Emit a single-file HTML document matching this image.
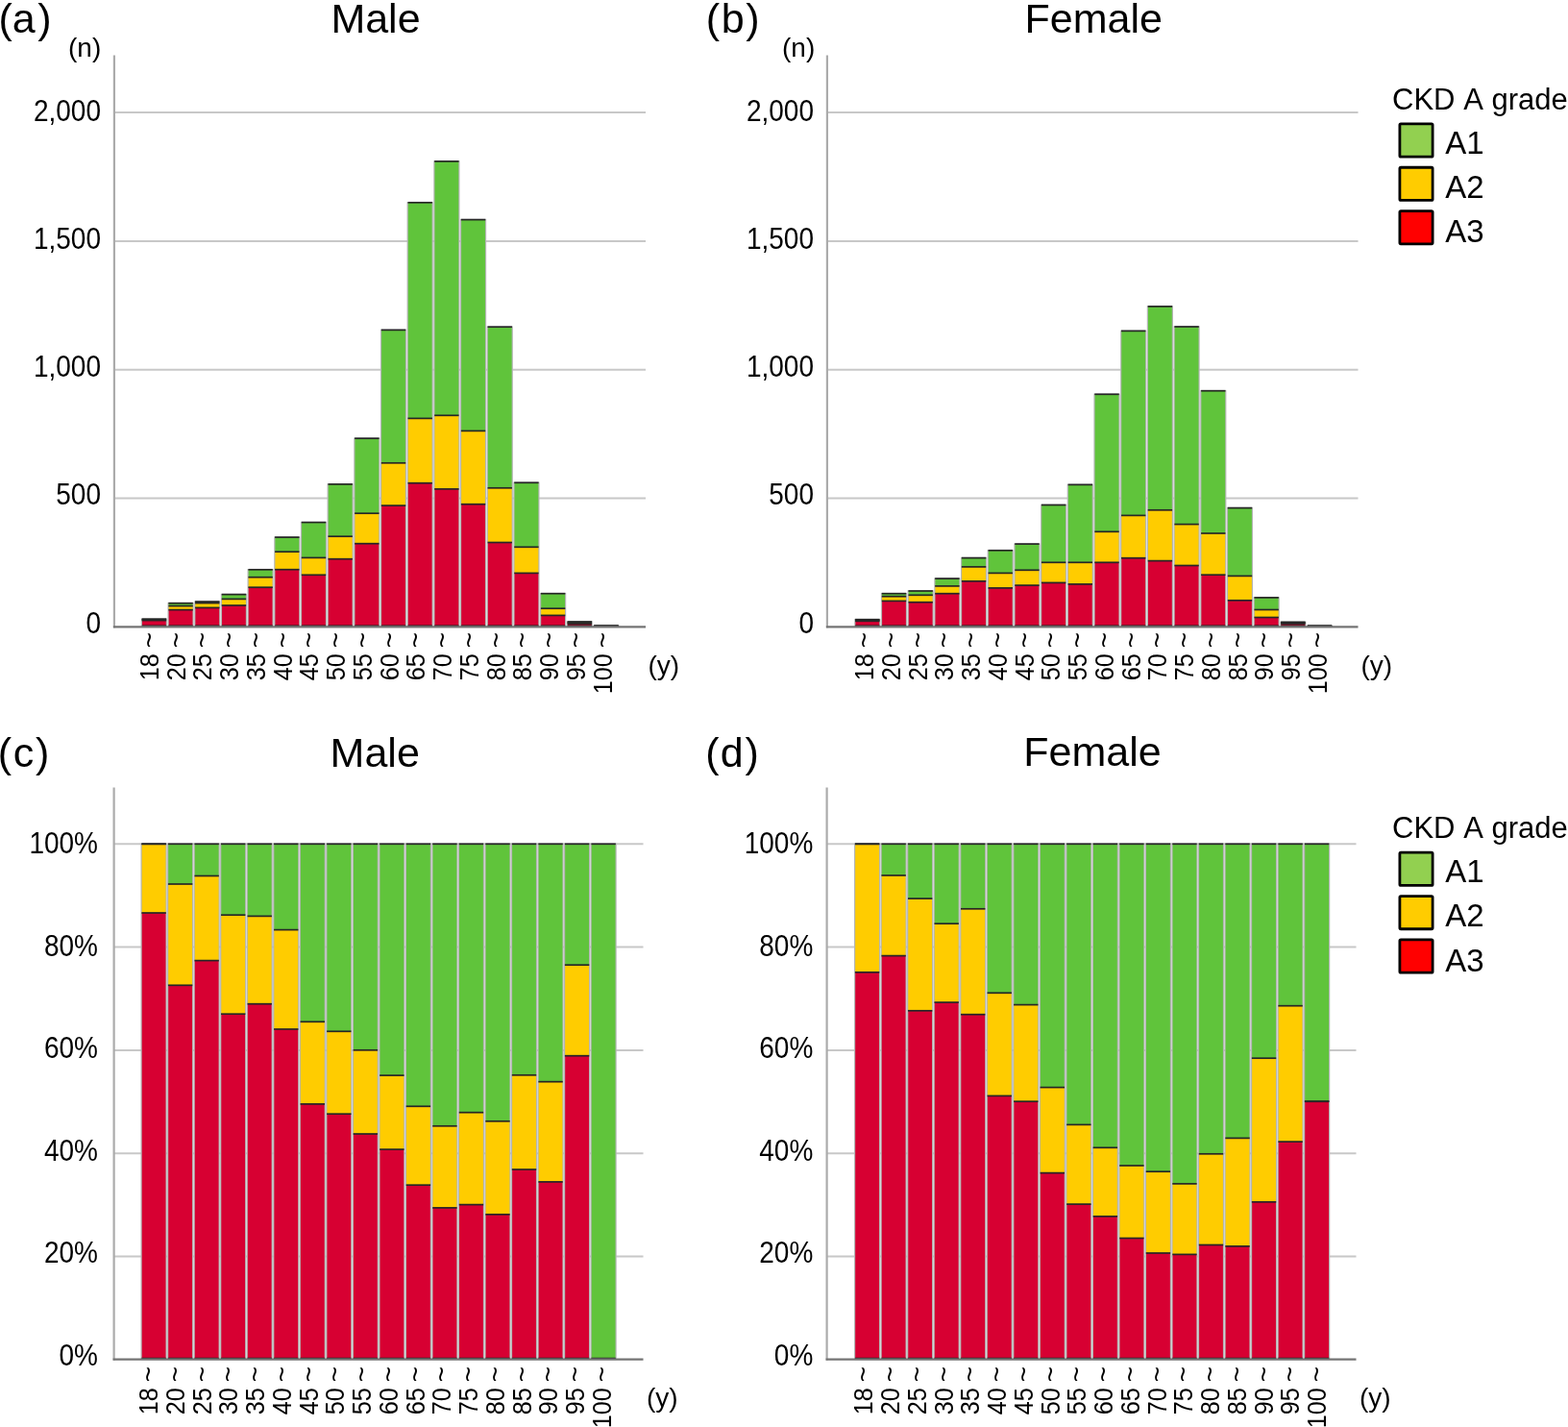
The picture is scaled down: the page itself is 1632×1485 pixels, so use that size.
<!DOCTYPE html>
<html><head><meta charset="utf-8"><title>CKD A grade by age</title>
<style>html,body{margin:0;padding:0;background:#fff;}svg{display:block;}text{font-family:'Liberation Sans', Arial, Helvetica, sans-serif;fill:#000;}.t{font-size:28px;}.h{font-size:43px;}.lg{font-size:31px;}.li{font-size:33px;}</style></head><body>
<svg width="1632" height="1485" viewBox="0 0 1632 1485">
<rect width="1632" height="1485" fill="#fff"/>
<line x1="118.9" y1="117" x2="672" y2="117" stroke="#c8c8c8" stroke-width="2"/>
<line x1="118.9" y1="250.9" x2="672" y2="250.9" stroke="#c8c8c8" stroke-width="2"/>
<line x1="118.9" y1="384.8" x2="672" y2="384.8" stroke="#c8c8c8" stroke-width="2"/>
<line x1="118.9" y1="518.6" x2="672" y2="518.6" stroke="#c8c8c8" stroke-width="2"/>
<rect x="146.8" y="643.45" width="27.2" height="8.85" fill="#b4b6b5"/>
<rect x="148" y="644.2" width="24.8" height="0.7" fill="#60c43b"/>
<rect x="148" y="644.9" width="24.8" height="0.7" fill="#ffcc00"/>
<rect x="148" y="645.6" width="24.8" height="6.7" fill="#d70032"/>
<line x1="147.7" y1="644.2" x2="173.1" y2="644.2" stroke="#262626" stroke-width="1.7"/>
<line x1="147.7" y1="644.9" x2="173.1" y2="644.9" stroke="#262626" stroke-width="1.7"/>
<line x1="147.7" y1="645.6" x2="173.1" y2="645.6" stroke="#262626" stroke-width="1.7"/>
<line x1="147.7" y1="651.3" x2="173.1" y2="651.3" stroke="#262626" stroke-width="1.7"/>
<rect x="174.48" y="626.95" width="27.2" height="25.35" fill="#b4b6b5"/>
<rect x="175.68" y="627.7" width="24.8" height="2.9" fill="#60c43b"/>
<rect x="175.68" y="630.6" width="24.8" height="4" fill="#ffcc00"/>
<rect x="175.68" y="634.6" width="24.8" height="17.7" fill="#d70032"/>
<line x1="175.38" y1="627.7" x2="200.78" y2="627.7" stroke="#262626" stroke-width="1.7"/>
<line x1="175.38" y1="630.6" x2="200.78" y2="630.6" stroke="#262626" stroke-width="1.7"/>
<line x1="175.38" y1="634.6" x2="200.78" y2="634.6" stroke="#262626" stroke-width="1.7"/>
<line x1="175.38" y1="651.3" x2="200.78" y2="651.3" stroke="#262626" stroke-width="1.7"/>
<rect x="202.16" y="625.35" width="27.2" height="26.95" fill="#b4b6b5"/>
<rect x="203.36" y="626.1" width="24.8" height="1.5" fill="#60c43b"/>
<rect x="203.36" y="627.6" width="24.8" height="4.8" fill="#ffcc00"/>
<rect x="203.36" y="632.4" width="24.8" height="19.9" fill="#d70032"/>
<line x1="203.06" y1="626.1" x2="228.46" y2="626.1" stroke="#262626" stroke-width="1.7"/>
<line x1="203.06" y1="627.6" x2="228.46" y2="627.6" stroke="#262626" stroke-width="1.7"/>
<line x1="203.06" y1="632.4" x2="228.46" y2="632.4" stroke="#262626" stroke-width="1.7"/>
<line x1="203.06" y1="651.3" x2="228.46" y2="651.3" stroke="#262626" stroke-width="1.7"/>
<rect x="229.84" y="617.85" width="27.2" height="34.45" fill="#b4b6b5"/>
<rect x="231.04" y="618.6" width="24.8" height="4.8" fill="#60c43b"/>
<rect x="231.04" y="623.4" width="24.8" height="6.6" fill="#ffcc00"/>
<rect x="231.04" y="630" width="24.8" height="22.3" fill="#d70032"/>
<line x1="230.74" y1="618.6" x2="256.14" y2="618.6" stroke="#262626" stroke-width="1.7"/>
<line x1="230.74" y1="623.4" x2="256.14" y2="623.4" stroke="#262626" stroke-width="1.7"/>
<line x1="230.74" y1="630" x2="256.14" y2="630" stroke="#262626" stroke-width="1.7"/>
<line x1="230.74" y1="651.3" x2="256.14" y2="651.3" stroke="#262626" stroke-width="1.7"/>
<rect x="257.52" y="592.05" width="27.2" height="60.25" fill="#b4b6b5"/>
<rect x="258.72" y="592.8" width="24.8" height="7.9" fill="#60c43b"/>
<rect x="258.72" y="600.7" width="24.8" height="10.5" fill="#ffcc00"/>
<rect x="258.72" y="611.2" width="24.8" height="41.1" fill="#d70032"/>
<line x1="258.42" y1="592.8" x2="283.82" y2="592.8" stroke="#262626" stroke-width="1.7"/>
<line x1="258.42" y1="600.7" x2="283.82" y2="600.7" stroke="#262626" stroke-width="1.7"/>
<line x1="258.42" y1="611.2" x2="283.82" y2="611.2" stroke="#262626" stroke-width="1.7"/>
<line x1="258.42" y1="651.3" x2="283.82" y2="651.3" stroke="#262626" stroke-width="1.7"/>
<rect x="285.2" y="558.35" width="27.2" height="93.95" fill="#b4b6b5"/>
<rect x="286.4" y="559.1" width="24.8" height="15.1" fill="#60c43b"/>
<rect x="286.4" y="574.2" width="24.8" height="18.5" fill="#ffcc00"/>
<rect x="286.4" y="592.7" width="24.8" height="59.6" fill="#d70032"/>
<line x1="286.1" y1="559.1" x2="311.5" y2="559.1" stroke="#262626" stroke-width="1.7"/>
<line x1="286.1" y1="574.2" x2="311.5" y2="574.2" stroke="#262626" stroke-width="1.7"/>
<line x1="286.1" y1="592.7" x2="311.5" y2="592.7" stroke="#262626" stroke-width="1.7"/>
<line x1="286.1" y1="651.3" x2="311.5" y2="651.3" stroke="#262626" stroke-width="1.7"/>
<rect x="312.88" y="542.85" width="27.2" height="109.45" fill="#b4b6b5"/>
<rect x="314.08" y="543.6" width="24.8" height="36.8" fill="#60c43b"/>
<rect x="314.08" y="580.4" width="24.8" height="17.9" fill="#ffcc00"/>
<rect x="314.08" y="598.3" width="24.8" height="54" fill="#d70032"/>
<line x1="313.78" y1="543.6" x2="339.18" y2="543.6" stroke="#262626" stroke-width="1.7"/>
<line x1="313.78" y1="580.4" x2="339.18" y2="580.4" stroke="#262626" stroke-width="1.7"/>
<line x1="313.78" y1="598.3" x2="339.18" y2="598.3" stroke="#262626" stroke-width="1.7"/>
<line x1="313.78" y1="651.3" x2="339.18" y2="651.3" stroke="#262626" stroke-width="1.7"/>
<rect x="340.56" y="503.15" width="27.2" height="149.15" fill="#b4b6b5"/>
<rect x="341.76" y="503.9" width="24.8" height="54.3" fill="#60c43b"/>
<rect x="341.76" y="558.2" width="24.8" height="23.5" fill="#ffcc00"/>
<rect x="341.76" y="581.7" width="24.8" height="70.6" fill="#d70032"/>
<line x1="341.46" y1="503.9" x2="366.86" y2="503.9" stroke="#262626" stroke-width="1.7"/>
<line x1="341.46" y1="558.2" x2="366.86" y2="558.2" stroke="#262626" stroke-width="1.7"/>
<line x1="341.46" y1="581.7" x2="366.86" y2="581.7" stroke="#262626" stroke-width="1.7"/>
<line x1="341.46" y1="651.3" x2="366.86" y2="651.3" stroke="#262626" stroke-width="1.7"/>
<rect x="368.24" y="455.45" width="27.2" height="196.85" fill="#b4b6b5"/>
<rect x="369.44" y="456.2" width="24.8" height="78" fill="#60c43b"/>
<rect x="369.44" y="534.2" width="24.8" height="31.5" fill="#ffcc00"/>
<rect x="369.44" y="565.7" width="24.8" height="86.6" fill="#d70032"/>
<line x1="369.14" y1="456.2" x2="394.54" y2="456.2" stroke="#262626" stroke-width="1.7"/>
<line x1="369.14" y1="534.2" x2="394.54" y2="534.2" stroke="#262626" stroke-width="1.7"/>
<line x1="369.14" y1="565.7" x2="394.54" y2="565.7" stroke="#262626" stroke-width="1.7"/>
<line x1="369.14" y1="651.3" x2="394.54" y2="651.3" stroke="#262626" stroke-width="1.7"/>
<rect x="395.92" y="342.65" width="27.2" height="309.65" fill="#b4b6b5"/>
<rect x="397.12" y="343.4" width="24.8" height="138.4" fill="#60c43b"/>
<rect x="397.12" y="481.8" width="24.8" height="44.3" fill="#ffcc00"/>
<rect x="397.12" y="526.1" width="24.8" height="126.2" fill="#d70032"/>
<line x1="396.82" y1="343.4" x2="422.22" y2="343.4" stroke="#262626" stroke-width="1.7"/>
<line x1="396.82" y1="481.8" x2="422.22" y2="481.8" stroke="#262626" stroke-width="1.7"/>
<line x1="396.82" y1="526.1" x2="422.22" y2="526.1" stroke="#262626" stroke-width="1.7"/>
<line x1="396.82" y1="651.3" x2="422.22" y2="651.3" stroke="#262626" stroke-width="1.7"/>
<rect x="423.6" y="210.05" width="27.2" height="442.25" fill="#b4b6b5"/>
<rect x="424.8" y="210.8" width="24.8" height="224.6" fill="#60c43b"/>
<rect x="424.8" y="435.4" width="24.8" height="67.3" fill="#ffcc00"/>
<rect x="424.8" y="502.7" width="24.8" height="149.6" fill="#d70032"/>
<line x1="424.5" y1="210.8" x2="449.9" y2="210.8" stroke="#262626" stroke-width="1.7"/>
<line x1="424.5" y1="435.4" x2="449.9" y2="435.4" stroke="#262626" stroke-width="1.7"/>
<line x1="424.5" y1="502.7" x2="449.9" y2="502.7" stroke="#262626" stroke-width="1.7"/>
<line x1="424.5" y1="651.3" x2="449.9" y2="651.3" stroke="#262626" stroke-width="1.7"/>
<rect x="451.28" y="167.15" width="27.2" height="485.15" fill="#b4b6b5"/>
<rect x="452.48" y="167.9" width="24.8" height="264.4" fill="#60c43b"/>
<rect x="452.48" y="432.3" width="24.8" height="76.6" fill="#ffcc00"/>
<rect x="452.48" y="508.9" width="24.8" height="143.4" fill="#d70032"/>
<line x1="452.18" y1="167.9" x2="477.58" y2="167.9" stroke="#262626" stroke-width="1.7"/>
<line x1="452.18" y1="432.3" x2="477.58" y2="432.3" stroke="#262626" stroke-width="1.7"/>
<line x1="452.18" y1="508.9" x2="477.58" y2="508.9" stroke="#262626" stroke-width="1.7"/>
<line x1="452.18" y1="651.3" x2="477.58" y2="651.3" stroke="#262626" stroke-width="1.7"/>
<rect x="478.96" y="227.85" width="27.2" height="424.45" fill="#b4b6b5"/>
<rect x="480.16" y="228.6" width="24.8" height="219.8" fill="#60c43b"/>
<rect x="480.16" y="448.4" width="24.8" height="76.3" fill="#ffcc00"/>
<rect x="480.16" y="524.7" width="24.8" height="127.6" fill="#d70032"/>
<line x1="479.86" y1="228.6" x2="505.26" y2="228.6" stroke="#262626" stroke-width="1.7"/>
<line x1="479.86" y1="448.4" x2="505.26" y2="448.4" stroke="#262626" stroke-width="1.7"/>
<line x1="479.86" y1="524.7" x2="505.26" y2="524.7" stroke="#262626" stroke-width="1.7"/>
<line x1="479.86" y1="651.3" x2="505.26" y2="651.3" stroke="#262626" stroke-width="1.7"/>
<rect x="506.64" y="339.45" width="27.2" height="312.85" fill="#b4b6b5"/>
<rect x="507.84" y="340.2" width="24.8" height="167.6" fill="#60c43b"/>
<rect x="507.84" y="507.8" width="24.8" height="56.7" fill="#ffcc00"/>
<rect x="507.84" y="564.5" width="24.8" height="87.8" fill="#d70032"/>
<line x1="507.54" y1="340.2" x2="532.94" y2="340.2" stroke="#262626" stroke-width="1.7"/>
<line x1="507.54" y1="507.8" x2="532.94" y2="507.8" stroke="#262626" stroke-width="1.7"/>
<line x1="507.54" y1="564.5" x2="532.94" y2="564.5" stroke="#262626" stroke-width="1.7"/>
<line x1="507.54" y1="651.3" x2="532.94" y2="651.3" stroke="#262626" stroke-width="1.7"/>
<rect x="534.32" y="501.55" width="27.2" height="150.75" fill="#b4b6b5"/>
<rect x="535.52" y="502.3" width="24.8" height="67" fill="#60c43b"/>
<rect x="535.52" y="569.3" width="24.8" height="27.1" fill="#ffcc00"/>
<rect x="535.52" y="596.4" width="24.8" height="55.9" fill="#d70032"/>
<line x1="535.22" y1="502.3" x2="560.62" y2="502.3" stroke="#262626" stroke-width="1.7"/>
<line x1="535.22" y1="569.3" x2="560.62" y2="569.3" stroke="#262626" stroke-width="1.7"/>
<line x1="535.22" y1="596.4" x2="560.62" y2="596.4" stroke="#262626" stroke-width="1.7"/>
<line x1="535.22" y1="651.3" x2="560.62" y2="651.3" stroke="#262626" stroke-width="1.7"/>
<rect x="562" y="616.95" width="27.2" height="35.35" fill="#b4b6b5"/>
<rect x="563.2" y="617.7" width="24.8" height="15.5" fill="#60c43b"/>
<rect x="563.2" y="633.2" width="24.8" height="7.2" fill="#ffcc00"/>
<rect x="563.2" y="640.4" width="24.8" height="11.9" fill="#d70032"/>
<line x1="562.9" y1="617.7" x2="588.3" y2="617.7" stroke="#262626" stroke-width="1.7"/>
<line x1="562.9" y1="633.2" x2="588.3" y2="633.2" stroke="#262626" stroke-width="1.7"/>
<line x1="562.9" y1="640.4" x2="588.3" y2="640.4" stroke="#262626" stroke-width="1.7"/>
<line x1="562.9" y1="651.3" x2="588.3" y2="651.3" stroke="#262626" stroke-width="1.7"/>
<rect x="589.68" y="646.25" width="27.2" height="6.05" fill="#b4b6b5"/>
<rect x="590.88" y="647" width="24.8" height="1" fill="#60c43b"/>
<rect x="590.88" y="648" width="24.8" height="1" fill="#ffcc00"/>
<rect x="590.88" y="649" width="24.8" height="3.3" fill="#d70032"/>
<line x1="590.58" y1="647" x2="615.98" y2="647" stroke="#262626" stroke-width="1.7"/>
<line x1="590.58" y1="648" x2="615.98" y2="648" stroke="#262626" stroke-width="1.7"/>
<line x1="590.58" y1="649" x2="615.98" y2="649" stroke="#262626" stroke-width="1.7"/>
<line x1="590.58" y1="651.3" x2="615.98" y2="651.3" stroke="#262626" stroke-width="1.7"/>
<rect x="617.36" y="650.65" width="27.2" height="1.65" fill="#b4b6b5"/>
<rect x="618.56" y="651.4" width="24.8" height="0.1" fill="#60c43b"/>
<rect x="618.56" y="651.5" width="24.8" height="0.1" fill="#ffcc00"/>
<rect x="618.56" y="651.6" width="24.8" height="0.7" fill="#d70032"/>
<line x1="618.26" y1="651.4" x2="643.66" y2="651.4" stroke="#262626" stroke-width="1.7"/>
<line x1="618.26" y1="651.5" x2="643.66" y2="651.5" stroke="#262626" stroke-width="1.7"/>
<line x1="618.26" y1="651.6" x2="643.66" y2="651.6" stroke="#262626" stroke-width="1.7"/>
<line x1="618.26" y1="651.3" x2="643.66" y2="651.3" stroke="#262626" stroke-width="1.7"/>
<line x1="118.9" y1="57.5" x2="118.9" y2="653.3" stroke="#ababab" stroke-width="2.2"/>
<line x1="117.9" y1="652.3" x2="672" y2="652.3" stroke="#747474" stroke-width="2.2"/>
<text transform="translate(164.9,658) rotate(-90)" text-anchor="end" class="t">~</text>
<text transform="translate(164.9,680.3) rotate(-90) scale(0.9,1)" text-anchor="end" class="t">18</text>
<text transform="translate(192.65,658) rotate(-90)" text-anchor="end" class="t">~</text>
<text transform="translate(192.65,680.3) rotate(-90) scale(0.9,1)" text-anchor="end" class="t">20</text>
<text transform="translate(220.4,658) rotate(-90)" text-anchor="end" class="t">~</text>
<text transform="translate(220.4,680.3) rotate(-90) scale(0.9,1)" text-anchor="end" class="t">25</text>
<text transform="translate(248.15,658) rotate(-90)" text-anchor="end" class="t">~</text>
<text transform="translate(248.15,680.3) rotate(-90) scale(0.9,1)" text-anchor="end" class="t">30</text>
<text transform="translate(275.9,658) rotate(-90)" text-anchor="end" class="t">~</text>
<text transform="translate(275.9,680.3) rotate(-90) scale(0.9,1)" text-anchor="end" class="t">35</text>
<text transform="translate(303.65,658) rotate(-90)" text-anchor="end" class="t">~</text>
<text transform="translate(303.65,680.3) rotate(-90) scale(0.9,1)" text-anchor="end" class="t">40</text>
<text transform="translate(331.4,658) rotate(-90)" text-anchor="end" class="t">~</text>
<text transform="translate(331.4,680.3) rotate(-90) scale(0.9,1)" text-anchor="end" class="t">45</text>
<text transform="translate(359.15,658) rotate(-90)" text-anchor="end" class="t">~</text>
<text transform="translate(359.15,680.3) rotate(-90) scale(0.9,1)" text-anchor="end" class="t">50</text>
<text transform="translate(386.9,658) rotate(-90)" text-anchor="end" class="t">~</text>
<text transform="translate(386.9,680.3) rotate(-90) scale(0.9,1)" text-anchor="end" class="t">55</text>
<text transform="translate(414.65,658) rotate(-90)" text-anchor="end" class="t">~</text>
<text transform="translate(414.65,680.3) rotate(-90) scale(0.9,1)" text-anchor="end" class="t">60</text>
<text transform="translate(442.4,658) rotate(-90)" text-anchor="end" class="t">~</text>
<text transform="translate(442.4,680.3) rotate(-90) scale(0.9,1)" text-anchor="end" class="t">65</text>
<text transform="translate(470.15,658) rotate(-90)" text-anchor="end" class="t">~</text>
<text transform="translate(470.15,680.3) rotate(-90) scale(0.9,1)" text-anchor="end" class="t">70</text>
<text transform="translate(497.9,658) rotate(-90)" text-anchor="end" class="t">~</text>
<text transform="translate(497.9,680.3) rotate(-90) scale(0.9,1)" text-anchor="end" class="t">75</text>
<text transform="translate(525.65,658) rotate(-90)" text-anchor="end" class="t">~</text>
<text transform="translate(525.65,680.3) rotate(-90) scale(0.9,1)" text-anchor="end" class="t">80</text>
<text transform="translate(553.4,658) rotate(-90)" text-anchor="end" class="t">~</text>
<text transform="translate(553.4,680.3) rotate(-90) scale(0.9,1)" text-anchor="end" class="t">85</text>
<text transform="translate(581.15,658) rotate(-90)" text-anchor="end" class="t">~</text>
<text transform="translate(581.15,680.3) rotate(-90) scale(0.9,1)" text-anchor="end" class="t">90</text>
<text transform="translate(608.9,658) rotate(-90)" text-anchor="end" class="t">~</text>
<text transform="translate(608.9,680.3) rotate(-90) scale(0.9,1)" text-anchor="end" class="t">95</text>
<text transform="translate(636.65,658) rotate(-90)" text-anchor="end" class="t">~</text>
<text transform="translate(636.65,680.3) rotate(-90) scale(0.9,1)" text-anchor="end" class="t">100</text>
<text transform="translate(105,125.7) scale(1,1.1)" text-anchor="end" class="t">2,000</text>
<text transform="translate(105,258.9) scale(1,1.1)" text-anchor="end" class="t">1,500</text>
<text transform="translate(105,392.1) scale(1,1.1)" text-anchor="end" class="t">1,000</text>
<text transform="translate(105,525.3) scale(1,1.1)" text-anchor="end" class="t">500</text>
<text transform="translate(105,658.5) scale(1,1.1)" text-anchor="end" class="t">0</text>
<line x1="860.9" y1="117" x2="1413.5" y2="117" stroke="#c8c8c8" stroke-width="2"/>
<line x1="860.9" y1="250.9" x2="1413.5" y2="250.9" stroke="#c8c8c8" stroke-width="2"/>
<line x1="860.9" y1="384.8" x2="1413.5" y2="384.8" stroke="#c8c8c8" stroke-width="2"/>
<line x1="860.9" y1="518.6" x2="1413.5" y2="518.6" stroke="#c8c8c8" stroke-width="2"/>
<rect x="889.2" y="643.95" width="27.2" height="8.35" fill="#b4b6b5"/>
<rect x="890.4" y="644.7" width="24.8" height="0.8" fill="#60c43b"/>
<rect x="890.4" y="645.5" width="24.8" height="0.8" fill="#ffcc00"/>
<rect x="890.4" y="646.3" width="24.8" height="6" fill="#d70032"/>
<line x1="890.1" y1="644.7" x2="915.5" y2="644.7" stroke="#262626" stroke-width="1.7"/>
<line x1="890.1" y1="645.5" x2="915.5" y2="645.5" stroke="#262626" stroke-width="1.7"/>
<line x1="890.1" y1="646.3" x2="915.5" y2="646.3" stroke="#262626" stroke-width="1.7"/>
<line x1="890.1" y1="651.3" x2="915.5" y2="651.3" stroke="#262626" stroke-width="1.7"/>
<rect x="916.89" y="616.95" width="27.2" height="35.35" fill="#b4b6b5"/>
<rect x="918.09" y="617.7" width="24.8" height="3" fill="#60c43b"/>
<rect x="918.09" y="620.7" width="24.8" height="4.7" fill="#ffcc00"/>
<rect x="918.09" y="625.4" width="24.8" height="26.9" fill="#d70032"/>
<line x1="917.79" y1="617.7" x2="943.19" y2="617.7" stroke="#262626" stroke-width="1.7"/>
<line x1="917.79" y1="620.7" x2="943.19" y2="620.7" stroke="#262626" stroke-width="1.7"/>
<line x1="917.79" y1="625.4" x2="943.19" y2="625.4" stroke="#262626" stroke-width="1.7"/>
<line x1="917.79" y1="651.3" x2="943.19" y2="651.3" stroke="#262626" stroke-width="1.7"/>
<rect x="944.58" y="614.25" width="27.2" height="38.05" fill="#b4b6b5"/>
<rect x="945.78" y="615" width="24.8" height="4.3" fill="#60c43b"/>
<rect x="945.78" y="619.3" width="24.8" height="7.4" fill="#ffcc00"/>
<rect x="945.78" y="626.7" width="24.8" height="25.6" fill="#d70032"/>
<line x1="945.48" y1="615" x2="970.88" y2="615" stroke="#262626" stroke-width="1.7"/>
<line x1="945.48" y1="619.3" x2="970.88" y2="619.3" stroke="#262626" stroke-width="1.7"/>
<line x1="945.48" y1="626.7" x2="970.88" y2="626.7" stroke="#262626" stroke-width="1.7"/>
<line x1="945.48" y1="651.3" x2="970.88" y2="651.3" stroke="#262626" stroke-width="1.7"/>
<rect x="972.27" y="601.35" width="27.2" height="50.95" fill="#b4b6b5"/>
<rect x="973.47" y="602.1" width="24.8" height="7.8" fill="#60c43b"/>
<rect x="973.47" y="609.9" width="24.8" height="7.8" fill="#ffcc00"/>
<rect x="973.47" y="617.7" width="24.8" height="34.6" fill="#d70032"/>
<line x1="973.17" y1="602.1" x2="998.57" y2="602.1" stroke="#262626" stroke-width="1.7"/>
<line x1="973.17" y1="609.9" x2="998.57" y2="609.9" stroke="#262626" stroke-width="1.7"/>
<line x1="973.17" y1="617.7" x2="998.57" y2="617.7" stroke="#262626" stroke-width="1.7"/>
<line x1="973.17" y1="651.3" x2="998.57" y2="651.3" stroke="#262626" stroke-width="1.7"/>
<rect x="999.96" y="579.85" width="27.2" height="72.45" fill="#b4b6b5"/>
<rect x="1001.16" y="580.6" width="24.8" height="9.3" fill="#60c43b"/>
<rect x="1001.16" y="589.9" width="24.8" height="14.9" fill="#ffcc00"/>
<rect x="1001.16" y="604.8" width="24.8" height="47.5" fill="#d70032"/>
<line x1="1000.86" y1="580.6" x2="1026.26" y2="580.6" stroke="#262626" stroke-width="1.7"/>
<line x1="1000.86" y1="589.9" x2="1026.26" y2="589.9" stroke="#262626" stroke-width="1.7"/>
<line x1="1000.86" y1="604.8" x2="1026.26" y2="604.8" stroke="#262626" stroke-width="1.7"/>
<line x1="1000.86" y1="651.3" x2="1026.26" y2="651.3" stroke="#262626" stroke-width="1.7"/>
<rect x="1027.65" y="572.05" width="27.2" height="80.25" fill="#b4b6b5"/>
<rect x="1028.85" y="572.8" width="24.8" height="23.6" fill="#60c43b"/>
<rect x="1028.85" y="596.4" width="24.8" height="15.5" fill="#ffcc00"/>
<rect x="1028.85" y="611.9" width="24.8" height="40.4" fill="#d70032"/>
<line x1="1028.55" y1="572.8" x2="1053.95" y2="572.8" stroke="#262626" stroke-width="1.7"/>
<line x1="1028.55" y1="596.4" x2="1053.95" y2="596.4" stroke="#262626" stroke-width="1.7"/>
<line x1="1028.55" y1="611.9" x2="1053.95" y2="611.9" stroke="#262626" stroke-width="1.7"/>
<line x1="1028.55" y1="651.3" x2="1053.95" y2="651.3" stroke="#262626" stroke-width="1.7"/>
<rect x="1055.34" y="565.35" width="27.2" height="86.95" fill="#b4b6b5"/>
<rect x="1056.54" y="566.1" width="24.8" height="27.2" fill="#60c43b"/>
<rect x="1056.54" y="593.3" width="24.8" height="15.8" fill="#ffcc00"/>
<rect x="1056.54" y="609.1" width="24.8" height="43.2" fill="#d70032"/>
<line x1="1056.24" y1="566.1" x2="1081.64" y2="566.1" stroke="#262626" stroke-width="1.7"/>
<line x1="1056.24" y1="593.3" x2="1081.64" y2="593.3" stroke="#262626" stroke-width="1.7"/>
<line x1="1056.24" y1="609.1" x2="1081.64" y2="609.1" stroke="#262626" stroke-width="1.7"/>
<line x1="1056.24" y1="651.3" x2="1081.64" y2="651.3" stroke="#262626" stroke-width="1.7"/>
<rect x="1083.03" y="524.75" width="27.2" height="127.55" fill="#b4b6b5"/>
<rect x="1084.23" y="525.5" width="24.8" height="59.8" fill="#60c43b"/>
<rect x="1084.23" y="585.3" width="24.8" height="21.1" fill="#ffcc00"/>
<rect x="1084.23" y="606.4" width="24.8" height="45.9" fill="#d70032"/>
<line x1="1083.93" y1="525.5" x2="1109.33" y2="525.5" stroke="#262626" stroke-width="1.7"/>
<line x1="1083.93" y1="585.3" x2="1109.33" y2="585.3" stroke="#262626" stroke-width="1.7"/>
<line x1="1083.93" y1="606.4" x2="1109.33" y2="606.4" stroke="#262626" stroke-width="1.7"/>
<line x1="1083.93" y1="651.3" x2="1109.33" y2="651.3" stroke="#262626" stroke-width="1.7"/>
<rect x="1110.72" y="503.65" width="27.2" height="148.65" fill="#b4b6b5"/>
<rect x="1111.92" y="504.4" width="24.8" height="80.9" fill="#60c43b"/>
<rect x="1111.92" y="585.3" width="24.8" height="22.6" fill="#ffcc00"/>
<rect x="1111.92" y="607.9" width="24.8" height="44.4" fill="#d70032"/>
<line x1="1111.62" y1="504.4" x2="1137.02" y2="504.4" stroke="#262626" stroke-width="1.7"/>
<line x1="1111.62" y1="585.3" x2="1137.02" y2="585.3" stroke="#262626" stroke-width="1.7"/>
<line x1="1111.62" y1="607.9" x2="1137.02" y2="607.9" stroke="#262626" stroke-width="1.7"/>
<line x1="1111.62" y1="651.3" x2="1137.02" y2="651.3" stroke="#262626" stroke-width="1.7"/>
<rect x="1138.41" y="409.55" width="27.2" height="242.75" fill="#b4b6b5"/>
<rect x="1139.61" y="410.3" width="24.8" height="143" fill="#60c43b"/>
<rect x="1139.61" y="553.3" width="24.8" height="32" fill="#ffcc00"/>
<rect x="1139.61" y="585.3" width="24.8" height="67" fill="#d70032"/>
<line x1="1139.31" y1="410.3" x2="1164.71" y2="410.3" stroke="#262626" stroke-width="1.7"/>
<line x1="1139.31" y1="553.3" x2="1164.71" y2="553.3" stroke="#262626" stroke-width="1.7"/>
<line x1="1139.31" y1="585.3" x2="1164.71" y2="585.3" stroke="#262626" stroke-width="1.7"/>
<line x1="1139.31" y1="651.3" x2="1164.71" y2="651.3" stroke="#262626" stroke-width="1.7"/>
<rect x="1166.1" y="343.65" width="27.2" height="308.65" fill="#b4b6b5"/>
<rect x="1167.3" y="344.4" width="24.8" height="192" fill="#60c43b"/>
<rect x="1167.3" y="536.4" width="24.8" height="44.3" fill="#ffcc00"/>
<rect x="1167.3" y="580.7" width="24.8" height="71.6" fill="#d70032"/>
<line x1="1167" y1="344.4" x2="1192.4" y2="344.4" stroke="#262626" stroke-width="1.7"/>
<line x1="1167" y1="536.4" x2="1192.4" y2="536.4" stroke="#262626" stroke-width="1.7"/>
<line x1="1167" y1="580.7" x2="1192.4" y2="580.7" stroke="#262626" stroke-width="1.7"/>
<line x1="1167" y1="651.3" x2="1192.4" y2="651.3" stroke="#262626" stroke-width="1.7"/>
<rect x="1193.79" y="318.15" width="27.2" height="334.15" fill="#b4b6b5"/>
<rect x="1194.99" y="318.9" width="24.8" height="211.9" fill="#60c43b"/>
<rect x="1194.99" y="530.8" width="24.8" height="52.8" fill="#ffcc00"/>
<rect x="1194.99" y="583.6" width="24.8" height="68.7" fill="#d70032"/>
<line x1="1194.69" y1="318.9" x2="1220.09" y2="318.9" stroke="#262626" stroke-width="1.7"/>
<line x1="1194.69" y1="530.8" x2="1220.09" y2="530.8" stroke="#262626" stroke-width="1.7"/>
<line x1="1194.69" y1="583.6" x2="1220.09" y2="583.6" stroke="#262626" stroke-width="1.7"/>
<line x1="1194.69" y1="651.3" x2="1220.09" y2="651.3" stroke="#262626" stroke-width="1.7"/>
<rect x="1221.48" y="339.25" width="27.2" height="313.05" fill="#b4b6b5"/>
<rect x="1222.68" y="340" width="24.8" height="205.6" fill="#60c43b"/>
<rect x="1222.68" y="545.6" width="24.8" height="42.9" fill="#ffcc00"/>
<rect x="1222.68" y="588.5" width="24.8" height="63.8" fill="#d70032"/>
<line x1="1222.38" y1="340" x2="1247.78" y2="340" stroke="#262626" stroke-width="1.7"/>
<line x1="1222.38" y1="545.6" x2="1247.78" y2="545.6" stroke="#262626" stroke-width="1.7"/>
<line x1="1222.38" y1="588.5" x2="1247.78" y2="588.5" stroke="#262626" stroke-width="1.7"/>
<line x1="1222.38" y1="651.3" x2="1247.78" y2="651.3" stroke="#262626" stroke-width="1.7"/>
<rect x="1249.17" y="405.95" width="27.2" height="246.35" fill="#b4b6b5"/>
<rect x="1250.37" y="406.7" width="24.8" height="148.3" fill="#60c43b"/>
<rect x="1250.37" y="555" width="24.8" height="43.2" fill="#ffcc00"/>
<rect x="1250.37" y="598.2" width="24.8" height="54.1" fill="#d70032"/>
<line x1="1250.07" y1="406.7" x2="1275.47" y2="406.7" stroke="#262626" stroke-width="1.7"/>
<line x1="1250.07" y1="555" x2="1275.47" y2="555" stroke="#262626" stroke-width="1.7"/>
<line x1="1250.07" y1="598.2" x2="1275.47" y2="598.2" stroke="#262626" stroke-width="1.7"/>
<line x1="1250.07" y1="651.3" x2="1275.47" y2="651.3" stroke="#262626" stroke-width="1.7"/>
<rect x="1276.86" y="527.85" width="27.2" height="124.45" fill="#b4b6b5"/>
<rect x="1278.06" y="528.6" width="24.8" height="70.8" fill="#60c43b"/>
<rect x="1278.06" y="599.4" width="24.8" height="25.4" fill="#ffcc00"/>
<rect x="1278.06" y="624.8" width="24.8" height="27.5" fill="#d70032"/>
<line x1="1277.76" y1="528.6" x2="1303.16" y2="528.6" stroke="#262626" stroke-width="1.7"/>
<line x1="1277.76" y1="599.4" x2="1303.16" y2="599.4" stroke="#262626" stroke-width="1.7"/>
<line x1="1277.76" y1="624.8" x2="1303.16" y2="624.8" stroke="#262626" stroke-width="1.7"/>
<line x1="1277.76" y1="651.3" x2="1303.16" y2="651.3" stroke="#262626" stroke-width="1.7"/>
<rect x="1304.55" y="621.15" width="27.2" height="31.15" fill="#b4b6b5"/>
<rect x="1305.75" y="621.9" width="24.8" height="12.6" fill="#60c43b"/>
<rect x="1305.75" y="634.5" width="24.8" height="8" fill="#ffcc00"/>
<rect x="1305.75" y="642.5" width="24.8" height="9.8" fill="#d70032"/>
<line x1="1305.45" y1="621.9" x2="1330.85" y2="621.9" stroke="#262626" stroke-width="1.7"/>
<line x1="1305.45" y1="634.5" x2="1330.85" y2="634.5" stroke="#262626" stroke-width="1.7"/>
<line x1="1305.45" y1="642.5" x2="1330.85" y2="642.5" stroke="#262626" stroke-width="1.7"/>
<line x1="1305.45" y1="651.3" x2="1330.85" y2="651.3" stroke="#262626" stroke-width="1.7"/>
<rect x="1332.24" y="646.65" width="27.2" height="5.65" fill="#b4b6b5"/>
<rect x="1333.44" y="647.4" width="24.8" height="0.8" fill="#60c43b"/>
<rect x="1333.44" y="648.2" width="24.8" height="0.8" fill="#ffcc00"/>
<rect x="1333.44" y="649" width="24.8" height="3.3" fill="#d70032"/>
<line x1="1333.14" y1="647.4" x2="1358.54" y2="647.4" stroke="#262626" stroke-width="1.7"/>
<line x1="1333.14" y1="648.2" x2="1358.54" y2="648.2" stroke="#262626" stroke-width="1.7"/>
<line x1="1333.14" y1="649" x2="1358.54" y2="649" stroke="#262626" stroke-width="1.7"/>
<line x1="1333.14" y1="651.3" x2="1358.54" y2="651.3" stroke="#262626" stroke-width="1.7"/>
<rect x="1359.93" y="650.75" width="27.2" height="1.55" fill="#b4b6b5"/>
<rect x="1361.13" y="651.5" width="24.8" height="0.1" fill="#60c43b"/>
<rect x="1361.13" y="651.6" width="24.8" height="0.1" fill="#ffcc00"/>
<rect x="1361.13" y="651.7" width="24.8" height="0.6" fill="#d70032"/>
<line x1="1360.83" y1="651.5" x2="1386.23" y2="651.5" stroke="#262626" stroke-width="1.7"/>
<line x1="1360.83" y1="651.6" x2="1386.23" y2="651.6" stroke="#262626" stroke-width="1.7"/>
<line x1="1360.83" y1="651.7" x2="1386.23" y2="651.7" stroke="#262626" stroke-width="1.7"/>
<line x1="1360.83" y1="651.3" x2="1386.23" y2="651.3" stroke="#262626" stroke-width="1.7"/>
<line x1="860.9" y1="57.5" x2="860.9" y2="653.3" stroke="#ababab" stroke-width="2.2"/>
<line x1="859.9" y1="652.3" x2="1413.5" y2="652.3" stroke="#747474" stroke-width="2.2"/>
<text transform="translate(909.2,658) rotate(-90)" text-anchor="end" class="t">~</text>
<text transform="translate(909.2,680.3) rotate(-90) scale(0.9,1)" text-anchor="end" class="t">18</text>
<text transform="translate(936.95,658) rotate(-90)" text-anchor="end" class="t">~</text>
<text transform="translate(936.95,680.3) rotate(-90) scale(0.9,1)" text-anchor="end" class="t">20</text>
<text transform="translate(964.7,658) rotate(-90)" text-anchor="end" class="t">~</text>
<text transform="translate(964.7,680.3) rotate(-90) scale(0.9,1)" text-anchor="end" class="t">25</text>
<text transform="translate(992.45,658) rotate(-90)" text-anchor="end" class="t">~</text>
<text transform="translate(992.45,680.3) rotate(-90) scale(0.9,1)" text-anchor="end" class="t">30</text>
<text transform="translate(1020.2,658) rotate(-90)" text-anchor="end" class="t">~</text>
<text transform="translate(1020.2,680.3) rotate(-90) scale(0.9,1)" text-anchor="end" class="t">35</text>
<text transform="translate(1047.95,658) rotate(-90)" text-anchor="end" class="t">~</text>
<text transform="translate(1047.95,680.3) rotate(-90) scale(0.9,1)" text-anchor="end" class="t">40</text>
<text transform="translate(1075.7,658) rotate(-90)" text-anchor="end" class="t">~</text>
<text transform="translate(1075.7,680.3) rotate(-90) scale(0.9,1)" text-anchor="end" class="t">45</text>
<text transform="translate(1103.45,658) rotate(-90)" text-anchor="end" class="t">~</text>
<text transform="translate(1103.45,680.3) rotate(-90) scale(0.9,1)" text-anchor="end" class="t">50</text>
<text transform="translate(1131.2,658) rotate(-90)" text-anchor="end" class="t">~</text>
<text transform="translate(1131.2,680.3) rotate(-90) scale(0.9,1)" text-anchor="end" class="t">55</text>
<text transform="translate(1158.95,658) rotate(-90)" text-anchor="end" class="t">~</text>
<text transform="translate(1158.95,680.3) rotate(-90) scale(0.9,1)" text-anchor="end" class="t">60</text>
<text transform="translate(1186.7,658) rotate(-90)" text-anchor="end" class="t">~</text>
<text transform="translate(1186.7,680.3) rotate(-90) scale(0.9,1)" text-anchor="end" class="t">65</text>
<text transform="translate(1214.45,658) rotate(-90)" text-anchor="end" class="t">~</text>
<text transform="translate(1214.45,680.3) rotate(-90) scale(0.9,1)" text-anchor="end" class="t">70</text>
<text transform="translate(1242.2,658) rotate(-90)" text-anchor="end" class="t">~</text>
<text transform="translate(1242.2,680.3) rotate(-90) scale(0.9,1)" text-anchor="end" class="t">75</text>
<text transform="translate(1269.95,658) rotate(-90)" text-anchor="end" class="t">~</text>
<text transform="translate(1269.95,680.3) rotate(-90) scale(0.9,1)" text-anchor="end" class="t">80</text>
<text transform="translate(1297.7,658) rotate(-90)" text-anchor="end" class="t">~</text>
<text transform="translate(1297.7,680.3) rotate(-90) scale(0.9,1)" text-anchor="end" class="t">85</text>
<text transform="translate(1325.45,658) rotate(-90)" text-anchor="end" class="t">~</text>
<text transform="translate(1325.45,680.3) rotate(-90) scale(0.9,1)" text-anchor="end" class="t">90</text>
<text transform="translate(1353.2,658) rotate(-90)" text-anchor="end" class="t">~</text>
<text transform="translate(1353.2,680.3) rotate(-90) scale(0.9,1)" text-anchor="end" class="t">95</text>
<text transform="translate(1380.95,658) rotate(-90)" text-anchor="end" class="t">~</text>
<text transform="translate(1380.95,680.3) rotate(-90) scale(0.9,1)" text-anchor="end" class="t">100</text>
<text transform="translate(847,125.7) scale(1,1.1)" text-anchor="end" class="t">2,000</text>
<text transform="translate(847,258.9) scale(1,1.1)" text-anchor="end" class="t">1,500</text>
<text transform="translate(847,392.1) scale(1,1.1)" text-anchor="end" class="t">1,000</text>
<text transform="translate(847,525.3) scale(1,1.1)" text-anchor="end" class="t">500</text>
<text transform="translate(847,658.5) scale(1,1.1)" text-anchor="end" class="t">0</text>
<line x1="118.6" y1="878.3" x2="669.5" y2="878.3" stroke="#c8c8c8" stroke-width="2"/>
<line x1="118.6" y1="985.6" x2="669.5" y2="985.6" stroke="#c8c8c8" stroke-width="2"/>
<line x1="118.6" y1="1092.9" x2="669.5" y2="1092.9" stroke="#c8c8c8" stroke-width="2"/>
<line x1="118.6" y1="1200.2" x2="669.5" y2="1200.2" stroke="#c8c8c8" stroke-width="2"/>
<line x1="118.6" y1="1307.4" x2="669.5" y2="1307.4" stroke="#c8c8c8" stroke-width="2"/>
<rect x="146.5" y="877.55" width="27.2" height="537.05" fill="#b4b6b5"/>
<rect x="147.7" y="878.3" width="24.8" height="71.7" fill="#ffcc00"/>
<rect x="147.7" y="950" width="24.8" height="464.6" fill="#d70032"/>
<line x1="147.4" y1="878.3" x2="172.8" y2="878.3" stroke="#262626" stroke-width="1.7"/>
<line x1="147.4" y1="878.3" x2="172.8" y2="878.3" stroke="#262626" stroke-width="1.7"/>
<line x1="147.4" y1="950" x2="172.8" y2="950" stroke="#262626" stroke-width="1.7"/>
<line x1="147.4" y1="1413.6" x2="172.8" y2="1413.6" stroke="#262626" stroke-width="1.7"/>
<rect x="174.03" y="877.55" width="27.2" height="537.05" fill="#b4b6b5"/>
<rect x="175.23" y="878.3" width="24.8" height="41.7" fill="#60c43b"/>
<rect x="175.23" y="920" width="24.8" height="105.3" fill="#ffcc00"/>
<rect x="175.23" y="1025.3" width="24.8" height="389.3" fill="#d70032"/>
<line x1="174.93" y1="878.3" x2="200.33" y2="878.3" stroke="#262626" stroke-width="1.7"/>
<line x1="174.93" y1="920" x2="200.33" y2="920" stroke="#262626" stroke-width="1.7"/>
<line x1="174.93" y1="1025.3" x2="200.33" y2="1025.3" stroke="#262626" stroke-width="1.7"/>
<line x1="174.93" y1="1413.6" x2="200.33" y2="1413.6" stroke="#262626" stroke-width="1.7"/>
<rect x="201.56" y="877.55" width="27.2" height="537.05" fill="#b4b6b5"/>
<rect x="202.76" y="878.3" width="24.8" height="33.2" fill="#60c43b"/>
<rect x="202.76" y="911.5" width="24.8" height="88.1" fill="#ffcc00"/>
<rect x="202.76" y="999.6" width="24.8" height="415" fill="#d70032"/>
<line x1="202.46" y1="878.3" x2="227.86" y2="878.3" stroke="#262626" stroke-width="1.7"/>
<line x1="202.46" y1="911.5" x2="227.86" y2="911.5" stroke="#262626" stroke-width="1.7"/>
<line x1="202.46" y1="999.6" x2="227.86" y2="999.6" stroke="#262626" stroke-width="1.7"/>
<line x1="202.46" y1="1413.6" x2="227.86" y2="1413.6" stroke="#262626" stroke-width="1.7"/>
<rect x="229.09" y="877.55" width="27.2" height="537.05" fill="#b4b6b5"/>
<rect x="230.29" y="878.3" width="24.8" height="73.9" fill="#60c43b"/>
<rect x="230.29" y="952.2" width="24.8" height="103" fill="#ffcc00"/>
<rect x="230.29" y="1055.2" width="24.8" height="359.4" fill="#d70032"/>
<line x1="229.99" y1="878.3" x2="255.39" y2="878.3" stroke="#262626" stroke-width="1.7"/>
<line x1="229.99" y1="952.2" x2="255.39" y2="952.2" stroke="#262626" stroke-width="1.7"/>
<line x1="229.99" y1="1055.2" x2="255.39" y2="1055.2" stroke="#262626" stroke-width="1.7"/>
<line x1="229.99" y1="1413.6" x2="255.39" y2="1413.6" stroke="#262626" stroke-width="1.7"/>
<rect x="256.62" y="877.55" width="27.2" height="537.05" fill="#b4b6b5"/>
<rect x="257.82" y="878.3" width="24.8" height="75.1" fill="#60c43b"/>
<rect x="257.82" y="953.4" width="24.8" height="91.3" fill="#ffcc00"/>
<rect x="257.82" y="1044.7" width="24.8" height="369.9" fill="#d70032"/>
<line x1="257.52" y1="878.3" x2="282.92" y2="878.3" stroke="#262626" stroke-width="1.7"/>
<line x1="257.52" y1="953.4" x2="282.92" y2="953.4" stroke="#262626" stroke-width="1.7"/>
<line x1="257.52" y1="1044.7" x2="282.92" y2="1044.7" stroke="#262626" stroke-width="1.7"/>
<line x1="257.52" y1="1413.6" x2="282.92" y2="1413.6" stroke="#262626" stroke-width="1.7"/>
<rect x="284.15" y="877.55" width="27.2" height="537.05" fill="#b4b6b5"/>
<rect x="285.35" y="878.3" width="24.8" height="89.3" fill="#60c43b"/>
<rect x="285.35" y="967.6" width="24.8" height="103.4" fill="#ffcc00"/>
<rect x="285.35" y="1071" width="24.8" height="343.6" fill="#d70032"/>
<line x1="285.05" y1="878.3" x2="310.45" y2="878.3" stroke="#262626" stroke-width="1.7"/>
<line x1="285.05" y1="967.6" x2="310.45" y2="967.6" stroke="#262626" stroke-width="1.7"/>
<line x1="285.05" y1="1071" x2="310.45" y2="1071" stroke="#262626" stroke-width="1.7"/>
<line x1="285.05" y1="1413.6" x2="310.45" y2="1413.6" stroke="#262626" stroke-width="1.7"/>
<rect x="311.68" y="877.55" width="27.2" height="537.05" fill="#b4b6b5"/>
<rect x="312.88" y="878.3" width="24.8" height="185" fill="#60c43b"/>
<rect x="312.88" y="1063.3" width="24.8" height="85.6" fill="#ffcc00"/>
<rect x="312.88" y="1148.9" width="24.8" height="265.7" fill="#d70032"/>
<line x1="312.58" y1="878.3" x2="337.98" y2="878.3" stroke="#262626" stroke-width="1.7"/>
<line x1="312.58" y1="1063.3" x2="337.98" y2="1063.3" stroke="#262626" stroke-width="1.7"/>
<line x1="312.58" y1="1148.9" x2="337.98" y2="1148.9" stroke="#262626" stroke-width="1.7"/>
<line x1="312.58" y1="1413.6" x2="337.98" y2="1413.6" stroke="#262626" stroke-width="1.7"/>
<rect x="339.21" y="877.55" width="27.2" height="537.05" fill="#b4b6b5"/>
<rect x="340.41" y="878.3" width="24.8" height="195" fill="#60c43b"/>
<rect x="340.41" y="1073.3" width="24.8" height="85.9" fill="#ffcc00"/>
<rect x="340.41" y="1159.2" width="24.8" height="255.4" fill="#d70032"/>
<line x1="340.11" y1="878.3" x2="365.51" y2="878.3" stroke="#262626" stroke-width="1.7"/>
<line x1="340.11" y1="1073.3" x2="365.51" y2="1073.3" stroke="#262626" stroke-width="1.7"/>
<line x1="340.11" y1="1159.2" x2="365.51" y2="1159.2" stroke="#262626" stroke-width="1.7"/>
<line x1="340.11" y1="1413.6" x2="365.51" y2="1413.6" stroke="#262626" stroke-width="1.7"/>
<rect x="366.74" y="877.55" width="27.2" height="537.05" fill="#b4b6b5"/>
<rect x="367.94" y="878.3" width="24.8" height="214.5" fill="#60c43b"/>
<rect x="367.94" y="1092.8" width="24.8" height="87.2" fill="#ffcc00"/>
<rect x="367.94" y="1180" width="24.8" height="234.6" fill="#d70032"/>
<line x1="367.64" y1="878.3" x2="393.04" y2="878.3" stroke="#262626" stroke-width="1.7"/>
<line x1="367.64" y1="1092.8" x2="393.04" y2="1092.8" stroke="#262626" stroke-width="1.7"/>
<line x1="367.64" y1="1180" x2="393.04" y2="1180" stroke="#262626" stroke-width="1.7"/>
<line x1="367.64" y1="1413.6" x2="393.04" y2="1413.6" stroke="#262626" stroke-width="1.7"/>
<rect x="394.27" y="877.55" width="27.2" height="537.05" fill="#b4b6b5"/>
<rect x="395.47" y="878.3" width="24.8" height="240.8" fill="#60c43b"/>
<rect x="395.47" y="1119.1" width="24.8" height="77" fill="#ffcc00"/>
<rect x="395.47" y="1196.1" width="24.8" height="218.5" fill="#d70032"/>
<line x1="395.17" y1="878.3" x2="420.57" y2="878.3" stroke="#262626" stroke-width="1.7"/>
<line x1="395.17" y1="1119.1" x2="420.57" y2="1119.1" stroke="#262626" stroke-width="1.7"/>
<line x1="395.17" y1="1196.1" x2="420.57" y2="1196.1" stroke="#262626" stroke-width="1.7"/>
<line x1="395.17" y1="1413.6" x2="420.57" y2="1413.6" stroke="#262626" stroke-width="1.7"/>
<rect x="421.8" y="877.55" width="27.2" height="537.05" fill="#b4b6b5"/>
<rect x="423" y="878.3" width="24.8" height="273" fill="#60c43b"/>
<rect x="423" y="1151.3" width="24.8" height="81.9" fill="#ffcc00"/>
<rect x="423" y="1233.2" width="24.8" height="181.4" fill="#d70032"/>
<line x1="422.7" y1="878.3" x2="448.1" y2="878.3" stroke="#262626" stroke-width="1.7"/>
<line x1="422.7" y1="1151.3" x2="448.1" y2="1151.3" stroke="#262626" stroke-width="1.7"/>
<line x1="422.7" y1="1233.2" x2="448.1" y2="1233.2" stroke="#262626" stroke-width="1.7"/>
<line x1="422.7" y1="1413.6" x2="448.1" y2="1413.6" stroke="#262626" stroke-width="1.7"/>
<rect x="449.33" y="877.55" width="27.2" height="537.05" fill="#b4b6b5"/>
<rect x="450.53" y="878.3" width="24.8" height="293.5" fill="#60c43b"/>
<rect x="450.53" y="1171.8" width="24.8" height="85.1" fill="#ffcc00"/>
<rect x="450.53" y="1256.9" width="24.8" height="157.7" fill="#d70032"/>
<line x1="450.23" y1="878.3" x2="475.63" y2="878.3" stroke="#262626" stroke-width="1.7"/>
<line x1="450.23" y1="1171.8" x2="475.63" y2="1171.8" stroke="#262626" stroke-width="1.7"/>
<line x1="450.23" y1="1256.9" x2="475.63" y2="1256.9" stroke="#262626" stroke-width="1.7"/>
<line x1="450.23" y1="1413.6" x2="475.63" y2="1413.6" stroke="#262626" stroke-width="1.7"/>
<rect x="476.86" y="877.55" width="27.2" height="537.05" fill="#b4b6b5"/>
<rect x="478.06" y="878.3" width="24.8" height="279.4" fill="#60c43b"/>
<rect x="478.06" y="1157.7" width="24.8" height="95.9" fill="#ffcc00"/>
<rect x="478.06" y="1253.6" width="24.8" height="161" fill="#d70032"/>
<line x1="477.76" y1="878.3" x2="503.16" y2="878.3" stroke="#262626" stroke-width="1.7"/>
<line x1="477.76" y1="1157.7" x2="503.16" y2="1157.7" stroke="#262626" stroke-width="1.7"/>
<line x1="477.76" y1="1253.6" x2="503.16" y2="1253.6" stroke="#262626" stroke-width="1.7"/>
<line x1="477.76" y1="1413.6" x2="503.16" y2="1413.6" stroke="#262626" stroke-width="1.7"/>
<rect x="504.39" y="877.55" width="27.2" height="537.05" fill="#b4b6b5"/>
<rect x="505.59" y="878.3" width="24.8" height="288.5" fill="#60c43b"/>
<rect x="505.59" y="1166.8" width="24.8" height="97" fill="#ffcc00"/>
<rect x="505.59" y="1263.8" width="24.8" height="150.8" fill="#d70032"/>
<line x1="505.29" y1="878.3" x2="530.69" y2="878.3" stroke="#262626" stroke-width="1.7"/>
<line x1="505.29" y1="1166.8" x2="530.69" y2="1166.8" stroke="#262626" stroke-width="1.7"/>
<line x1="505.29" y1="1263.8" x2="530.69" y2="1263.8" stroke="#262626" stroke-width="1.7"/>
<line x1="505.29" y1="1413.6" x2="530.69" y2="1413.6" stroke="#262626" stroke-width="1.7"/>
<rect x="531.92" y="877.55" width="27.2" height="537.05" fill="#b4b6b5"/>
<rect x="533.12" y="878.3" width="24.8" height="240.5" fill="#60c43b"/>
<rect x="533.12" y="1118.8" width="24.8" height="98.2" fill="#ffcc00"/>
<rect x="533.12" y="1217" width="24.8" height="197.6" fill="#d70032"/>
<line x1="532.82" y1="878.3" x2="558.22" y2="878.3" stroke="#262626" stroke-width="1.7"/>
<line x1="532.82" y1="1118.8" x2="558.22" y2="1118.8" stroke="#262626" stroke-width="1.7"/>
<line x1="532.82" y1="1217" x2="558.22" y2="1217" stroke="#262626" stroke-width="1.7"/>
<line x1="532.82" y1="1413.6" x2="558.22" y2="1413.6" stroke="#262626" stroke-width="1.7"/>
<rect x="559.45" y="877.55" width="27.2" height="537.05" fill="#b4b6b5"/>
<rect x="560.65" y="878.3" width="24.8" height="247.4" fill="#60c43b"/>
<rect x="560.65" y="1125.7" width="24.8" height="104.2" fill="#ffcc00"/>
<rect x="560.65" y="1229.9" width="24.8" height="184.7" fill="#d70032"/>
<line x1="560.35" y1="878.3" x2="585.75" y2="878.3" stroke="#262626" stroke-width="1.7"/>
<line x1="560.35" y1="1125.7" x2="585.75" y2="1125.7" stroke="#262626" stroke-width="1.7"/>
<line x1="560.35" y1="1229.9" x2="585.75" y2="1229.9" stroke="#262626" stroke-width="1.7"/>
<line x1="560.35" y1="1413.6" x2="585.75" y2="1413.6" stroke="#262626" stroke-width="1.7"/>
<rect x="586.98" y="877.55" width="27.2" height="537.05" fill="#b4b6b5"/>
<rect x="588.18" y="878.3" width="24.8" height="125.9" fill="#60c43b"/>
<rect x="588.18" y="1004.2" width="24.8" height="94.5" fill="#ffcc00"/>
<rect x="588.18" y="1098.7" width="24.8" height="315.9" fill="#d70032"/>
<line x1="587.88" y1="878.3" x2="613.28" y2="878.3" stroke="#262626" stroke-width="1.7"/>
<line x1="587.88" y1="1004.2" x2="613.28" y2="1004.2" stroke="#262626" stroke-width="1.7"/>
<line x1="587.88" y1="1098.7" x2="613.28" y2="1098.7" stroke="#262626" stroke-width="1.7"/>
<line x1="587.88" y1="1413.6" x2="613.28" y2="1413.6" stroke="#262626" stroke-width="1.7"/>
<rect x="614.51" y="877.55" width="27.2" height="537.05" fill="#b4b6b5"/>
<rect x="615.71" y="878.3" width="24.8" height="536.3" fill="#60c43b"/>
<line x1="615.41" y1="878.3" x2="640.81" y2="878.3" stroke="#262626" stroke-width="1.7"/>
<line x1="615.41" y1="1413.6" x2="640.81" y2="1413.6" stroke="#262626" stroke-width="1.7"/>
<line x1="118.6" y1="819.5" x2="118.6" y2="1415.6" stroke="#ababab" stroke-width="2.2"/>
<line x1="117.6" y1="1414.6" x2="669.5" y2="1414.6" stroke="#747474" stroke-width="2.2"/>
<text transform="translate(164.1,1422) rotate(-90)" text-anchor="end" class="t">~</text>
<text transform="translate(164.1,1444.3) rotate(-90) scale(0.9,1)" text-anchor="end" class="t">18</text>
<text transform="translate(191.85,1422) rotate(-90)" text-anchor="end" class="t">~</text>
<text transform="translate(191.85,1444.3) rotate(-90) scale(0.9,1)" text-anchor="end" class="t">20</text>
<text transform="translate(219.6,1422) rotate(-90)" text-anchor="end" class="t">~</text>
<text transform="translate(219.6,1444.3) rotate(-90) scale(0.9,1)" text-anchor="end" class="t">25</text>
<text transform="translate(247.35,1422) rotate(-90)" text-anchor="end" class="t">~</text>
<text transform="translate(247.35,1444.3) rotate(-90) scale(0.9,1)" text-anchor="end" class="t">30</text>
<text transform="translate(275.1,1422) rotate(-90)" text-anchor="end" class="t">~</text>
<text transform="translate(275.1,1444.3) rotate(-90) scale(0.9,1)" text-anchor="end" class="t">35</text>
<text transform="translate(302.85,1422) rotate(-90)" text-anchor="end" class="t">~</text>
<text transform="translate(302.85,1444.3) rotate(-90) scale(0.9,1)" text-anchor="end" class="t">40</text>
<text transform="translate(330.6,1422) rotate(-90)" text-anchor="end" class="t">~</text>
<text transform="translate(330.6,1444.3) rotate(-90) scale(0.9,1)" text-anchor="end" class="t">45</text>
<text transform="translate(358.35,1422) rotate(-90)" text-anchor="end" class="t">~</text>
<text transform="translate(358.35,1444.3) rotate(-90) scale(0.9,1)" text-anchor="end" class="t">50</text>
<text transform="translate(386.1,1422) rotate(-90)" text-anchor="end" class="t">~</text>
<text transform="translate(386.1,1444.3) rotate(-90) scale(0.9,1)" text-anchor="end" class="t">55</text>
<text transform="translate(413.85,1422) rotate(-90)" text-anchor="end" class="t">~</text>
<text transform="translate(413.85,1444.3) rotate(-90) scale(0.9,1)" text-anchor="end" class="t">60</text>
<text transform="translate(441.6,1422) rotate(-90)" text-anchor="end" class="t">~</text>
<text transform="translate(441.6,1444.3) rotate(-90) scale(0.9,1)" text-anchor="end" class="t">65</text>
<text transform="translate(469.35,1422) rotate(-90)" text-anchor="end" class="t">~</text>
<text transform="translate(469.35,1444.3) rotate(-90) scale(0.9,1)" text-anchor="end" class="t">70</text>
<text transform="translate(497.1,1422) rotate(-90)" text-anchor="end" class="t">~</text>
<text transform="translate(497.1,1444.3) rotate(-90) scale(0.9,1)" text-anchor="end" class="t">75</text>
<text transform="translate(524.85,1422) rotate(-90)" text-anchor="end" class="t">~</text>
<text transform="translate(524.85,1444.3) rotate(-90) scale(0.9,1)" text-anchor="end" class="t">80</text>
<text transform="translate(552.6,1422) rotate(-90)" text-anchor="end" class="t">~</text>
<text transform="translate(552.6,1444.3) rotate(-90) scale(0.9,1)" text-anchor="end" class="t">85</text>
<text transform="translate(580.35,1422) rotate(-90)" text-anchor="end" class="t">~</text>
<text transform="translate(580.35,1444.3) rotate(-90) scale(0.9,1)" text-anchor="end" class="t">90</text>
<text transform="translate(608.1,1422) rotate(-90)" text-anchor="end" class="t">~</text>
<text transform="translate(608.1,1444.3) rotate(-90) scale(0.9,1)" text-anchor="end" class="t">95</text>
<text transform="translate(635.85,1422) rotate(-90)" text-anchor="end" class="t">~</text>
<text transform="translate(635.85,1444.3) rotate(-90) scale(0.9,1)" text-anchor="end" class="t">100</text>
<text transform="translate(102,888) scale(1,1.1)" text-anchor="end" class="t">100%</text>
<text transform="translate(102,994.5) scale(1,1.1)" text-anchor="end" class="t">80%</text>
<text transform="translate(102,1101) scale(1,1.1)" text-anchor="end" class="t">60%</text>
<text transform="translate(102,1207.5) scale(1,1.1)" text-anchor="end" class="t">40%</text>
<text transform="translate(102,1314) scale(1,1.1)" text-anchor="end" class="t">20%</text>
<text transform="translate(102,1420.5) scale(1,1.1)" text-anchor="end" class="t">0%</text>
<line x1="860.6" y1="878.3" x2="1411.5" y2="878.3" stroke="#c8c8c8" stroke-width="2"/>
<line x1="860.6" y1="985.6" x2="1411.5" y2="985.6" stroke="#c8c8c8" stroke-width="2"/>
<line x1="860.6" y1="1092.9" x2="1411.5" y2="1092.9" stroke="#c8c8c8" stroke-width="2"/>
<line x1="860.6" y1="1200.2" x2="1411.5" y2="1200.2" stroke="#c8c8c8" stroke-width="2"/>
<line x1="860.6" y1="1307.4" x2="1411.5" y2="1307.4" stroke="#c8c8c8" stroke-width="2"/>
<rect x="889" y="877.55" width="27.2" height="537.05" fill="#b4b6b5"/>
<rect x="890.2" y="878.3" width="24.8" height="133.5" fill="#ffcc00"/>
<rect x="890.2" y="1011.8" width="24.8" height="402.8" fill="#d70032"/>
<line x1="889.9" y1="878.3" x2="915.3" y2="878.3" stroke="#262626" stroke-width="1.7"/>
<line x1="889.9" y1="878.3" x2="915.3" y2="878.3" stroke="#262626" stroke-width="1.7"/>
<line x1="889.9" y1="1011.8" x2="915.3" y2="1011.8" stroke="#262626" stroke-width="1.7"/>
<line x1="889.9" y1="1413.6" x2="915.3" y2="1413.6" stroke="#262626" stroke-width="1.7"/>
<rect x="916.53" y="877.55" width="27.2" height="537.05" fill="#b4b6b5"/>
<rect x="917.73" y="878.3" width="24.8" height="32.7" fill="#60c43b"/>
<rect x="917.73" y="911" width="24.8" height="83.6" fill="#ffcc00"/>
<rect x="917.73" y="994.6" width="24.8" height="420" fill="#d70032"/>
<line x1="917.43" y1="878.3" x2="942.83" y2="878.3" stroke="#262626" stroke-width="1.7"/>
<line x1="917.43" y1="911" x2="942.83" y2="911" stroke="#262626" stroke-width="1.7"/>
<line x1="917.43" y1="994.6" x2="942.83" y2="994.6" stroke="#262626" stroke-width="1.7"/>
<line x1="917.43" y1="1413.6" x2="942.83" y2="1413.6" stroke="#262626" stroke-width="1.7"/>
<rect x="944.06" y="877.55" width="27.2" height="537.05" fill="#b4b6b5"/>
<rect x="945.26" y="878.3" width="24.8" height="56.8" fill="#60c43b"/>
<rect x="945.26" y="935.1" width="24.8" height="116.7" fill="#ffcc00"/>
<rect x="945.26" y="1051.8" width="24.8" height="362.8" fill="#d70032"/>
<line x1="944.96" y1="878.3" x2="970.36" y2="878.3" stroke="#262626" stroke-width="1.7"/>
<line x1="944.96" y1="935.1" x2="970.36" y2="935.1" stroke="#262626" stroke-width="1.7"/>
<line x1="944.96" y1="1051.8" x2="970.36" y2="1051.8" stroke="#262626" stroke-width="1.7"/>
<line x1="944.96" y1="1413.6" x2="970.36" y2="1413.6" stroke="#262626" stroke-width="1.7"/>
<rect x="971.59" y="877.55" width="27.2" height="537.05" fill="#b4b6b5"/>
<rect x="972.79" y="878.3" width="24.8" height="82.9" fill="#60c43b"/>
<rect x="972.79" y="961.2" width="24.8" height="81.9" fill="#ffcc00"/>
<rect x="972.79" y="1043.1" width="24.8" height="371.5" fill="#d70032"/>
<line x1="972.49" y1="878.3" x2="997.89" y2="878.3" stroke="#262626" stroke-width="1.7"/>
<line x1="972.49" y1="961.2" x2="997.89" y2="961.2" stroke="#262626" stroke-width="1.7"/>
<line x1="972.49" y1="1043.1" x2="997.89" y2="1043.1" stroke="#262626" stroke-width="1.7"/>
<line x1="972.49" y1="1413.6" x2="997.89" y2="1413.6" stroke="#262626" stroke-width="1.7"/>
<rect x="999.12" y="877.55" width="27.2" height="537.05" fill="#b4b6b5"/>
<rect x="1000.32" y="878.3" width="24.8" height="67.5" fill="#60c43b"/>
<rect x="1000.32" y="945.8" width="24.8" height="109.9" fill="#ffcc00"/>
<rect x="1000.32" y="1055.7" width="24.8" height="358.9" fill="#d70032"/>
<line x1="1000.02" y1="878.3" x2="1025.42" y2="878.3" stroke="#262626" stroke-width="1.7"/>
<line x1="1000.02" y1="945.8" x2="1025.42" y2="945.8" stroke="#262626" stroke-width="1.7"/>
<line x1="1000.02" y1="1055.7" x2="1025.42" y2="1055.7" stroke="#262626" stroke-width="1.7"/>
<line x1="1000.02" y1="1413.6" x2="1025.42" y2="1413.6" stroke="#262626" stroke-width="1.7"/>
<rect x="1026.65" y="877.55" width="27.2" height="537.05" fill="#b4b6b5"/>
<rect x="1027.85" y="878.3" width="24.8" height="155" fill="#60c43b"/>
<rect x="1027.85" y="1033.3" width="24.8" height="107.1" fill="#ffcc00"/>
<rect x="1027.85" y="1140.4" width="24.8" height="274.2" fill="#d70032"/>
<line x1="1027.55" y1="878.3" x2="1052.95" y2="878.3" stroke="#262626" stroke-width="1.7"/>
<line x1="1027.55" y1="1033.3" x2="1052.95" y2="1033.3" stroke="#262626" stroke-width="1.7"/>
<line x1="1027.55" y1="1140.4" x2="1052.95" y2="1140.4" stroke="#262626" stroke-width="1.7"/>
<line x1="1027.55" y1="1413.6" x2="1052.95" y2="1413.6" stroke="#262626" stroke-width="1.7"/>
<rect x="1054.18" y="877.55" width="27.2" height="537.05" fill="#b4b6b5"/>
<rect x="1055.38" y="878.3" width="24.8" height="167.3" fill="#60c43b"/>
<rect x="1055.38" y="1045.6" width="24.8" height="100.6" fill="#ffcc00"/>
<rect x="1055.38" y="1146.2" width="24.8" height="268.4" fill="#d70032"/>
<line x1="1055.08" y1="878.3" x2="1080.48" y2="878.3" stroke="#262626" stroke-width="1.7"/>
<line x1="1055.08" y1="1045.6" x2="1080.48" y2="1045.6" stroke="#262626" stroke-width="1.7"/>
<line x1="1055.08" y1="1146.2" x2="1080.48" y2="1146.2" stroke="#262626" stroke-width="1.7"/>
<line x1="1055.08" y1="1413.6" x2="1080.48" y2="1413.6" stroke="#262626" stroke-width="1.7"/>
<rect x="1081.71" y="877.55" width="27.2" height="537.05" fill="#b4b6b5"/>
<rect x="1082.91" y="878.3" width="24.8" height="253.3" fill="#60c43b"/>
<rect x="1082.91" y="1131.6" width="24.8" height="89" fill="#ffcc00"/>
<rect x="1082.91" y="1220.6" width="24.8" height="194" fill="#d70032"/>
<line x1="1082.61" y1="878.3" x2="1108.01" y2="878.3" stroke="#262626" stroke-width="1.7"/>
<line x1="1082.61" y1="1131.6" x2="1108.01" y2="1131.6" stroke="#262626" stroke-width="1.7"/>
<line x1="1082.61" y1="1220.6" x2="1108.01" y2="1220.6" stroke="#262626" stroke-width="1.7"/>
<line x1="1082.61" y1="1413.6" x2="1108.01" y2="1413.6" stroke="#262626" stroke-width="1.7"/>
<rect x="1109.24" y="877.55" width="27.2" height="537.05" fill="#b4b6b5"/>
<rect x="1110.44" y="878.3" width="24.8" height="292.1" fill="#60c43b"/>
<rect x="1110.44" y="1170.4" width="24.8" height="82.7" fill="#ffcc00"/>
<rect x="1110.44" y="1253.1" width="24.8" height="161.5" fill="#d70032"/>
<line x1="1110.14" y1="878.3" x2="1135.54" y2="878.3" stroke="#262626" stroke-width="1.7"/>
<line x1="1110.14" y1="1170.4" x2="1135.54" y2="1170.4" stroke="#262626" stroke-width="1.7"/>
<line x1="1110.14" y1="1253.1" x2="1135.54" y2="1253.1" stroke="#262626" stroke-width="1.7"/>
<line x1="1110.14" y1="1413.6" x2="1135.54" y2="1413.6" stroke="#262626" stroke-width="1.7"/>
<rect x="1136.77" y="877.55" width="27.2" height="537.05" fill="#b4b6b5"/>
<rect x="1137.97" y="878.3" width="24.8" height="316" fill="#60c43b"/>
<rect x="1137.97" y="1194.3" width="24.8" height="71.5" fill="#ffcc00"/>
<rect x="1137.97" y="1265.8" width="24.8" height="148.8" fill="#d70032"/>
<line x1="1137.67" y1="878.3" x2="1163.07" y2="878.3" stroke="#262626" stroke-width="1.7"/>
<line x1="1137.67" y1="1194.3" x2="1163.07" y2="1194.3" stroke="#262626" stroke-width="1.7"/>
<line x1="1137.67" y1="1265.8" x2="1163.07" y2="1265.8" stroke="#262626" stroke-width="1.7"/>
<line x1="1137.67" y1="1413.6" x2="1163.07" y2="1413.6" stroke="#262626" stroke-width="1.7"/>
<rect x="1164.3" y="877.55" width="27.2" height="537.05" fill="#b4b6b5"/>
<rect x="1165.5" y="878.3" width="24.8" height="334.7" fill="#60c43b"/>
<rect x="1165.5" y="1213" width="24.8" height="75.5" fill="#ffcc00"/>
<rect x="1165.5" y="1288.5" width="24.8" height="126.1" fill="#d70032"/>
<line x1="1165.2" y1="878.3" x2="1190.6" y2="878.3" stroke="#262626" stroke-width="1.7"/>
<line x1="1165.2" y1="1213" x2="1190.6" y2="1213" stroke="#262626" stroke-width="1.7"/>
<line x1="1165.2" y1="1288.5" x2="1190.6" y2="1288.5" stroke="#262626" stroke-width="1.7"/>
<line x1="1165.2" y1="1413.6" x2="1190.6" y2="1413.6" stroke="#262626" stroke-width="1.7"/>
<rect x="1191.83" y="877.55" width="27.2" height="537.05" fill="#b4b6b5"/>
<rect x="1193.03" y="878.3" width="24.8" height="340.9" fill="#60c43b"/>
<rect x="1193.03" y="1219.2" width="24.8" height="84.8" fill="#ffcc00"/>
<rect x="1193.03" y="1304" width="24.8" height="110.6" fill="#d70032"/>
<line x1="1192.73" y1="878.3" x2="1218.13" y2="878.3" stroke="#262626" stroke-width="1.7"/>
<line x1="1192.73" y1="1219.2" x2="1218.13" y2="1219.2" stroke="#262626" stroke-width="1.7"/>
<line x1="1192.73" y1="1304" x2="1218.13" y2="1304" stroke="#262626" stroke-width="1.7"/>
<line x1="1192.73" y1="1413.6" x2="1218.13" y2="1413.6" stroke="#262626" stroke-width="1.7"/>
<rect x="1219.36" y="877.55" width="27.2" height="537.05" fill="#b4b6b5"/>
<rect x="1220.56" y="878.3" width="24.8" height="353.6" fill="#60c43b"/>
<rect x="1220.56" y="1231.9" width="24.8" height="73.5" fill="#ffcc00"/>
<rect x="1220.56" y="1305.4" width="24.8" height="109.2" fill="#d70032"/>
<line x1="1220.26" y1="878.3" x2="1245.66" y2="878.3" stroke="#262626" stroke-width="1.7"/>
<line x1="1220.26" y1="1231.9" x2="1245.66" y2="1231.9" stroke="#262626" stroke-width="1.7"/>
<line x1="1220.26" y1="1305.4" x2="1245.66" y2="1305.4" stroke="#262626" stroke-width="1.7"/>
<line x1="1220.26" y1="1413.6" x2="1245.66" y2="1413.6" stroke="#262626" stroke-width="1.7"/>
<rect x="1246.89" y="877.55" width="27.2" height="537.05" fill="#b4b6b5"/>
<rect x="1248.09" y="878.3" width="24.8" height="322.5" fill="#60c43b"/>
<rect x="1248.09" y="1200.8" width="24.8" height="94.7" fill="#ffcc00"/>
<rect x="1248.09" y="1295.5" width="24.8" height="119.1" fill="#d70032"/>
<line x1="1247.79" y1="878.3" x2="1273.19" y2="878.3" stroke="#262626" stroke-width="1.7"/>
<line x1="1247.79" y1="1200.8" x2="1273.19" y2="1200.8" stroke="#262626" stroke-width="1.7"/>
<line x1="1247.79" y1="1295.5" x2="1273.19" y2="1295.5" stroke="#262626" stroke-width="1.7"/>
<line x1="1247.79" y1="1413.6" x2="1273.19" y2="1413.6" stroke="#262626" stroke-width="1.7"/>
<rect x="1274.42" y="877.55" width="27.2" height="537.05" fill="#b4b6b5"/>
<rect x="1275.62" y="878.3" width="24.8" height="306.1" fill="#60c43b"/>
<rect x="1275.62" y="1184.4" width="24.8" height="112.5" fill="#ffcc00"/>
<rect x="1275.62" y="1296.9" width="24.8" height="117.7" fill="#d70032"/>
<line x1="1275.32" y1="878.3" x2="1300.72" y2="878.3" stroke="#262626" stroke-width="1.7"/>
<line x1="1275.32" y1="1184.4" x2="1300.72" y2="1184.4" stroke="#262626" stroke-width="1.7"/>
<line x1="1275.32" y1="1296.9" x2="1300.72" y2="1296.9" stroke="#262626" stroke-width="1.7"/>
<line x1="1275.32" y1="1413.6" x2="1300.72" y2="1413.6" stroke="#262626" stroke-width="1.7"/>
<rect x="1301.95" y="877.55" width="27.2" height="537.05" fill="#b4b6b5"/>
<rect x="1303.15" y="878.3" width="24.8" height="222.9" fill="#60c43b"/>
<rect x="1303.15" y="1101.2" width="24.8" height="149.6" fill="#ffcc00"/>
<rect x="1303.15" y="1250.8" width="24.8" height="163.8" fill="#d70032"/>
<line x1="1302.85" y1="878.3" x2="1328.25" y2="878.3" stroke="#262626" stroke-width="1.7"/>
<line x1="1302.85" y1="1101.2" x2="1328.25" y2="1101.2" stroke="#262626" stroke-width="1.7"/>
<line x1="1302.85" y1="1250.8" x2="1328.25" y2="1250.8" stroke="#262626" stroke-width="1.7"/>
<line x1="1302.85" y1="1413.6" x2="1328.25" y2="1413.6" stroke="#262626" stroke-width="1.7"/>
<rect x="1329.48" y="877.55" width="27.2" height="537.05" fill="#b4b6b5"/>
<rect x="1330.68" y="878.3" width="24.8" height="168.4" fill="#60c43b"/>
<rect x="1330.68" y="1046.7" width="24.8" height="141.4" fill="#ffcc00"/>
<rect x="1330.68" y="1188.1" width="24.8" height="226.5" fill="#d70032"/>
<line x1="1330.38" y1="878.3" x2="1355.78" y2="878.3" stroke="#262626" stroke-width="1.7"/>
<line x1="1330.38" y1="1046.7" x2="1355.78" y2="1046.7" stroke="#262626" stroke-width="1.7"/>
<line x1="1330.38" y1="1188.1" x2="1355.78" y2="1188.1" stroke="#262626" stroke-width="1.7"/>
<line x1="1330.38" y1="1413.6" x2="1355.78" y2="1413.6" stroke="#262626" stroke-width="1.7"/>
<rect x="1357.01" y="877.55" width="27.2" height="537.05" fill="#b4b6b5"/>
<rect x="1358.21" y="878.3" width="24.8" height="267.9" fill="#60c43b"/>
<rect x="1358.21" y="1146.2" width="24.8" height="268.4" fill="#d70032"/>
<line x1="1357.91" y1="878.3" x2="1383.31" y2="878.3" stroke="#262626" stroke-width="1.7"/>
<line x1="1357.91" y1="1146.2" x2="1383.31" y2="1146.2" stroke="#262626" stroke-width="1.7"/>
<line x1="1357.91" y1="1146.2" x2="1383.31" y2="1146.2" stroke="#262626" stroke-width="1.7"/>
<line x1="1357.91" y1="1413.6" x2="1383.31" y2="1413.6" stroke="#262626" stroke-width="1.7"/>
<line x1="860.6" y1="819.5" x2="860.6" y2="1415.6" stroke="#ababab" stroke-width="2.2"/>
<line x1="859.6" y1="1414.6" x2="1411.5" y2="1414.6" stroke="#747474" stroke-width="2.2"/>
<text transform="translate(908.4,1422) rotate(-90)" text-anchor="end" class="t">~</text>
<text transform="translate(908.4,1444.3) rotate(-90) scale(0.9,1)" text-anchor="end" class="t">18</text>
<text transform="translate(936.15,1422) rotate(-90)" text-anchor="end" class="t">~</text>
<text transform="translate(936.15,1444.3) rotate(-90) scale(0.9,1)" text-anchor="end" class="t">20</text>
<text transform="translate(963.9,1422) rotate(-90)" text-anchor="end" class="t">~</text>
<text transform="translate(963.9,1444.3) rotate(-90) scale(0.9,1)" text-anchor="end" class="t">25</text>
<text transform="translate(991.65,1422) rotate(-90)" text-anchor="end" class="t">~</text>
<text transform="translate(991.65,1444.3) rotate(-90) scale(0.9,1)" text-anchor="end" class="t">30</text>
<text transform="translate(1019.4,1422) rotate(-90)" text-anchor="end" class="t">~</text>
<text transform="translate(1019.4,1444.3) rotate(-90) scale(0.9,1)" text-anchor="end" class="t">35</text>
<text transform="translate(1047.15,1422) rotate(-90)" text-anchor="end" class="t">~</text>
<text transform="translate(1047.15,1444.3) rotate(-90) scale(0.9,1)" text-anchor="end" class="t">40</text>
<text transform="translate(1074.9,1422) rotate(-90)" text-anchor="end" class="t">~</text>
<text transform="translate(1074.9,1444.3) rotate(-90) scale(0.9,1)" text-anchor="end" class="t">45</text>
<text transform="translate(1102.65,1422) rotate(-90)" text-anchor="end" class="t">~</text>
<text transform="translate(1102.65,1444.3) rotate(-90) scale(0.9,1)" text-anchor="end" class="t">50</text>
<text transform="translate(1130.4,1422) rotate(-90)" text-anchor="end" class="t">~</text>
<text transform="translate(1130.4,1444.3) rotate(-90) scale(0.9,1)" text-anchor="end" class="t">55</text>
<text transform="translate(1158.15,1422) rotate(-90)" text-anchor="end" class="t">~</text>
<text transform="translate(1158.15,1444.3) rotate(-90) scale(0.9,1)" text-anchor="end" class="t">60</text>
<text transform="translate(1185.9,1422) rotate(-90)" text-anchor="end" class="t">~</text>
<text transform="translate(1185.9,1444.3) rotate(-90) scale(0.9,1)" text-anchor="end" class="t">65</text>
<text transform="translate(1213.65,1422) rotate(-90)" text-anchor="end" class="t">~</text>
<text transform="translate(1213.65,1444.3) rotate(-90) scale(0.9,1)" text-anchor="end" class="t">70</text>
<text transform="translate(1241.4,1422) rotate(-90)" text-anchor="end" class="t">~</text>
<text transform="translate(1241.4,1444.3) rotate(-90) scale(0.9,1)" text-anchor="end" class="t">75</text>
<text transform="translate(1269.15,1422) rotate(-90)" text-anchor="end" class="t">~</text>
<text transform="translate(1269.15,1444.3) rotate(-90) scale(0.9,1)" text-anchor="end" class="t">80</text>
<text transform="translate(1296.9,1422) rotate(-90)" text-anchor="end" class="t">~</text>
<text transform="translate(1296.9,1444.3) rotate(-90) scale(0.9,1)" text-anchor="end" class="t">85</text>
<text transform="translate(1324.65,1422) rotate(-90)" text-anchor="end" class="t">~</text>
<text transform="translate(1324.65,1444.3) rotate(-90) scale(0.9,1)" text-anchor="end" class="t">90</text>
<text transform="translate(1352.4,1422) rotate(-90)" text-anchor="end" class="t">~</text>
<text transform="translate(1352.4,1444.3) rotate(-90) scale(0.9,1)" text-anchor="end" class="t">95</text>
<text transform="translate(1380.15,1422) rotate(-90)" text-anchor="end" class="t">~</text>
<text transform="translate(1380.15,1444.3) rotate(-90) scale(0.9,1)" text-anchor="end" class="t">100</text>
<text transform="translate(846.3,888) scale(1,1.1)" text-anchor="end" class="t">100%</text>
<text transform="translate(846.3,994.5) scale(1,1.1)" text-anchor="end" class="t">80%</text>
<text transform="translate(846.3,1101) scale(1,1.1)" text-anchor="end" class="t">60%</text>
<text transform="translate(846.3,1207.5) scale(1,1.1)" text-anchor="end" class="t">40%</text>
<text transform="translate(846.3,1314) scale(1,1.1)" text-anchor="end" class="t">20%</text>
<text transform="translate(846.3,1420.5) scale(1,1.1)" text-anchor="end" class="t">0%</text>
<text x="-1.5" y="33.6" class="h">(<tspan dx="0">a</tspan><tspan dx="2.6">)</tspan></text>
<text x="734.75" y="33.6" class="h">(<tspan dx="1.6">b</tspan><tspan dx="1.65">)</tspan></text>
<text x="-2.25" y="797.8" class="h">(<tspan dx="1.75">c</tspan><tspan dx="1.65">)</tspan></text>
<text x="734.2" y="797.6" class="h">(<tspan dx="1.25">d</tspan><tspan dx="1.85">)</tspan></text>
<text x="391.0" y="33.8" text-anchor="middle" class="h">Male</text>
<text x="1138.3" y="33.6" text-anchor="middle" class="h">Female</text>
<text x="390.2" y="797.9" text-anchor="middle" class="h">Male</text>
<text x="1137.0" y="797.4" text-anchor="middle" class="h">Female</text>
<text x="71" y="58.8" class="t">(n)</text>
<text x="814" y="58.8" class="t">(n)</text>
<text x="674.5" y="701.5" class="t">(y)</text>
<text x="1416.5" y="701.5" class="t">(y)</text>
<text x="673" y="1463.8" class="t">(y)</text>
<text x="1415" y="1463.8" class="t">(y)</text>
<text x="1449" y="113.6" class="lg" style="word-spacing:1.8px">CKD A grade</text>
<rect x="1456.9" y="128.9" width="34.2" height="34.2" rx="1.2" fill="#92d050" stroke="#000" stroke-width="2.8"/>
<text x="1504.2" y="159.8" class="li">A1</text>
<rect x="1456.9" y="174.25" width="34.2" height="34.2" rx="1.2" fill="#ffcc00" stroke="#000" stroke-width="2.8"/>
<text x="1504.2" y="206" class="li">A2</text>
<rect x="1456.9" y="219.6" width="34.2" height="34.2" rx="1.2" fill="#ff0000" stroke="#000" stroke-width="2.8"/>
<text x="1504.2" y="252.2" class="li">A3</text>
<text x="1449" y="871.9" class="lg" style="word-spacing:1.8px">CKD A grade</text>
<rect x="1456.9" y="887.2" width="34.2" height="34.2" rx="1.2" fill="#92d050" stroke="#000" stroke-width="2.8"/>
<text x="1504.2" y="918.1" class="li">A1</text>
<rect x="1456.9" y="932.55" width="34.2" height="34.2" rx="1.2" fill="#ffcc00" stroke="#000" stroke-width="2.8"/>
<text x="1504.2" y="964.3" class="li">A2</text>
<rect x="1456.9" y="977.9" width="34.2" height="34.2" rx="1.2" fill="#ff0000" stroke="#000" stroke-width="2.8"/>
<text x="1504.2" y="1010.5" class="li">A3</text>
</svg></body></html>
